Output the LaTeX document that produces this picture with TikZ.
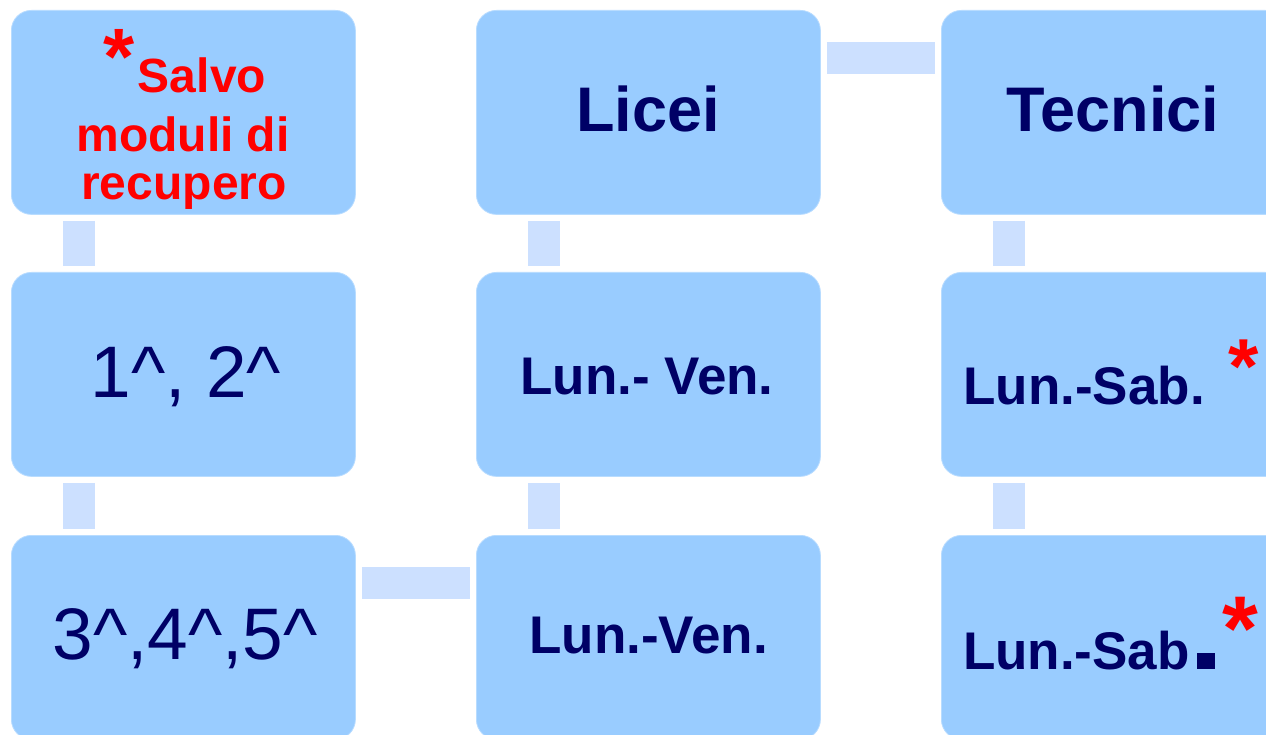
\documentclass[tikz,border=0pt]{standalone}
\usepackage{fontspec}
\setmainfont{Liberation Sans}
\definecolor{boxfill}{HTML}{99CCFF}
\definecolor{boxedge}{HTML}{B8DCFF}
\definecolor{connfill}{HTML}{CCE0FF}
\definecolor{navy}{HTML}{000066}
\definecolor{redtext}{HTML}{FF0000}
\tikzset{
  cell/.style={rectangle, rounded corners=20pt, fill=boxfill, draw=boxedge, line width=0.8pt,
    minimum width=344pt, minimum height=204pt, inner sep=0pt, anchor=north west},
  conn/.style={draw=connfill, line width=32pt, line cap=butt, shorten <=6pt, shorten >=6pt},
  lbl/.style={inner sep=0pt, outer sep=0pt, anchor=base, text=navy},
  fsz/.style={font=\fontsize{#1}{#1}\selectfont},
  redlbl/.style={inner sep=0pt, outer sep=0pt, anchor=base, text=redtext, font=\bfseries\fontsize{48}{48}\selectfont},
  star/.style={inner sep=0pt, outer sep=0pt, anchor=base west, text=redtext}
}
\begin{document}
\begin{tikzpicture}[x=1pt,y=-1pt]
\useasboundingbox (0,0) rectangle (1266,735);
\fill[white] (0,0) rectangle (1266,735);
\begin{scope}
\clip (0,0) rectangle (1266,735);
% boxes
\node[cell] (a1) at (11,10) {};
\node[cell] (a2) at (11,272) {};
\node[cell] (a3) at (11,535) {};
\node[cell] (b1) at (476,10) {};
\node[cell] (b2) at (476,272) {};
\node[cell] (b3) at (476,535) {};
\node[cell] (c1) at (941,10) {};
\node[cell] (c2) at (941,272) {};
\node[cell] (c3) at (941,535) {};
% connectors
\draw[conn] ([xshift=68pt]a1.south west) -- ([xshift=68pt]a2.north west);
\draw[conn] ([xshift=68pt]a2.south west) -- ([xshift=68pt]a3.north west);
\draw[conn] ([yshift=-48pt]a3.north east) -- ([yshift=-48pt]b3.north west);
\draw[conn] ([xshift=68pt]b3.north west) -- ([xshift=68pt]b2.south west);
\draw[conn] ([xshift=68pt]b2.north west) -- ([xshift=68pt]b1.south west);
\draw[conn] ([yshift=-48.5pt]b1.north east) -- ([yshift=-48.5pt]c1.north west);
\draw[conn] ([xshift=68pt]c1.south west) -- ([xshift=68pt]c2.north west);
\draw[conn] ([xshift=68pt]c2.south west) -- ([xshift=68pt]c3.north west);
% texts column 1
\node[star, font=\bfseries\fontsize{80}{80}\selectfont] (s1) at (103,85) {*};
\node[redlbl] (t1a) at (202,93) {Salvo};
\node[redlbl] (t1b) at (183,152) {moduli di};
\node[redlbl] (t1c) at (184,200) {recupero};
\node[lbl, fsz=73] (t2) at (186,397) {1\^{}, 2\^{}};
\node[lbl, fsz=73] (t3) at (185,659) {3\^{},4\^{},5\^{}};
% column 2
\node[lbl, font=\bfseries\fontsize{63}{63}\selectfont] (u1) at (648,132) {Licei};
\node[lbl, font=\bfseries\fontsize{53}{53}\selectfont] (u2) at (647,394) {Lun.- Ven.};
\node[lbl, font=\bfseries\fontsize{53}{53}\selectfont] (u3) at (648.5,653) {Lun.-Ven.};
% column 3
\node[lbl, font=\bfseries\fontsize{63}{63}\selectfont] (v1) at (1113,132) {Tecnici};
\node[lbl, font=\bfseries\fontsize{53}{53}\selectfont] (v2) at (1084,404) {Lun.-Sab.};
\node[star, font=\bfseries\fontsize{78}{78}\selectfont] (s2) at (1228,393) {*};
\node[lbl, anchor=base west, font=\bfseries\fontsize{53}{53}\selectfont] (v3) at (963,669) {Lun.-Sab\kern7pt\rule{18pt}{16pt}};
\node[star, font=\bfseries\fontsize{92}{92}\selectfont] (s3) at (1222,660) {*};
\end{scope}
\end{tikzpicture}
\end{document}
